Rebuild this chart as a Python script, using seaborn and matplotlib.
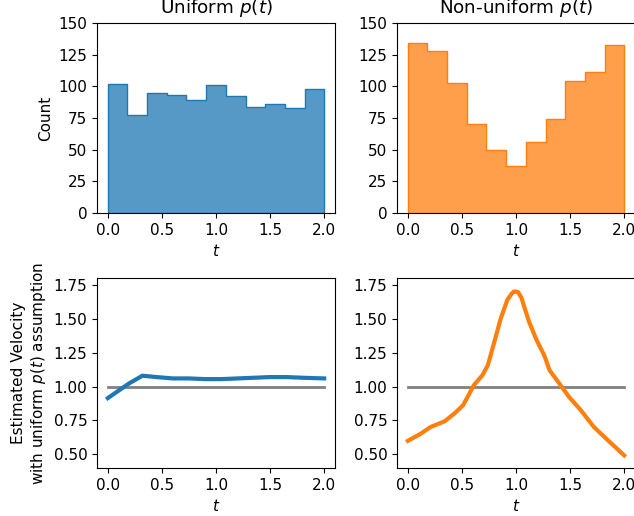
import numpy as np
import pandas as pd
import matplotlib
matplotlib.use("Agg")
import matplotlib.pyplot as plt
import seaborn as sns

# ---- data ----
uniform_counts = [102, 77, 95, 93, 89, 101, 92, 84, 86, 83, 98]
nonuniform_counts = [134, 128, 103, 70, 50, 37, 56, 74, 104, 111, 133]

uni_t = [0.0, 0.1, 0.2, 0.32, 0.45, 0.6, 0.75, 0.9, 1.05, 1.2, 1.35, 1.5, 1.65, 1.8, 2.0]
uni_v = [0.915, 0.97, 1.025, 1.08, 1.07, 1.06, 1.06, 1.055, 1.055, 1.06, 1.065, 1.07, 1.07, 1.065, 1.06]

non_t = [0.0, 0.12, 0.21, 0.34, 0.43, 0.51, 0.57, 0.61, 0.69, 0.74, 0.80, 0.86, 0.92, 0.96, 0.98,
         1.0, 1.02, 1.05, 1.08, 1.12, 1.19, 1.26, 1.31, 1.40, 1.49, 1.60, 1.72, 1.85, 2.0]
non_v = [0.60, 0.653, 0.702, 0.744, 0.801, 0.862, 0.949, 1.01, 1.084, 1.158, 1.33, 1.504, 1.639, 1.685, 1.70,
         1.70, 1.695, 1.655, 1.578, 1.479, 1.343, 1.232, 1.121, 1.023, 0.924, 0.825, 0.702, 0.604, 0.493]

blue = "#1f77b4"
orange = "#ff7f0e"

plt.rcParams["font.size"] = 11

fig = plt.figure(figsize=(6.34, 5.16), dpi=100)
W, H = 634, 516
def pos(l, t, r, b):
    return [l / W, 1 - b / H, (r - l) / W, (b - t) / H]

ax1 = fig.add_axes(pos(97, 23, 335, 213))
ax2 = fig.add_axes(pos(397, 23, 635, 213))
ax3 = fig.add_axes(pos(97, 278, 335, 468))
ax4 = fig.add_axes(pos(397, 278, 635, 468))

nb = len(uniform_counts)
edges = np.linspace(0, 2, nb + 1)
centers = (edges[:-1] + edges[1:]) / 2

for ax, counts, col, title in [(ax1, uniform_counts, blue, "Uniform $p(t)$"),
                                (ax2, nonuniform_counts, orange, "Non-uniform $p(t)$")]:
    df = pd.DataFrame({"t": centers, "w": counts})
    sns.histplot(data=df, x="t", weights="w", bins=nb, binrange=(0, 2), element="step",
                 color=col, alpha=0.75, ax=ax, linewidth=1)
    ax.set_ylim(0, 150)
    ax.set_xlim(-0.1, 2.1)
    ax.set_yticks([0, 25, 50, 75, 100, 125, 150])
    ax.set_xticks([0, 0.5, 1.0, 1.5, 2.0])
    ax.set_xlabel("$t$")
    ax.set_title(title, pad=7.5)
ax1.set_ylabel("Count")
ax2.set_ylabel("")

for ax, tt, vv, col in [(ax3, uni_t, uni_v, blue), (ax4, non_t, non_v, orange)]:
    sns.lineplot(x=[0, 2], y=[1, 1], color="gray", linewidth=2, ax=ax)
    sns.lineplot(x=tt, y=vv, color=col, linewidth=3, ax=ax)
    ax.set_ylim(0.4, 1.8)
    ax.set_xlim(-0.1, 2.1)
    ax.set_yticks([0.5, 0.75, 1.0, 1.25, 1.5, 1.75])
    ax.set_xticks([0, 0.5, 1.0, 1.5, 2.0])
    ax.set_xlabel("$t$")
ax3.set_ylabel("Estimated Velocity\nwith uniform $p(t)$ assumption")

fig.savefig("out.png", dpi=100)
